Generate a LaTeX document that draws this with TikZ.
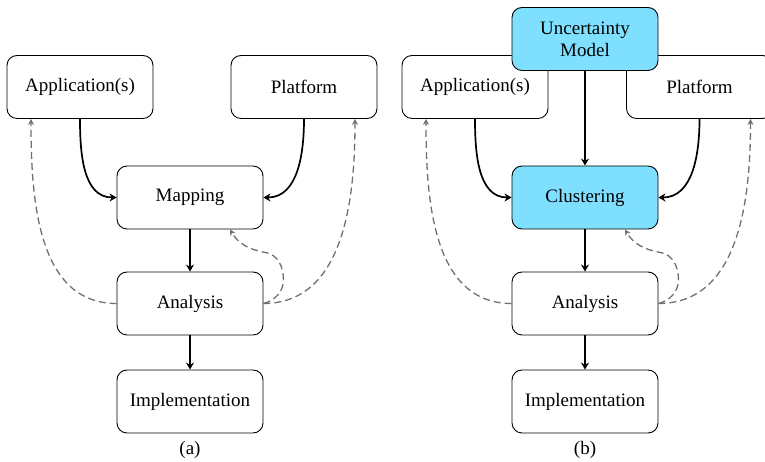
\documentclass[tikz,border=0pt]{standalone}
\usepackage{fontspec}
\setmainfont{Liberation Serif}
\usetikzlibrary{arrows.meta}
\definecolor{boxcyan}{HTML}{7EDFFF}
\definecolor{dashgray}{HTML}{707070}
\tikzset{
  stagebox/.style={draw=black, line width=0.9pt, rounded corners=10pt, minimum width=146pt, minimum height=63pt, inner sep=0pt, align=center, fill=white, font=\fontsize{19}{22}\selectfont},
  hlbox/.style={stagebox, fill=boxcyan},
  flow/.style={line width=1.7pt, -{Stealth[length=7pt,width=8pt]}},
  feedback/.style={dashgray, line width=1.3pt, dash pattern=on 7pt off 4pt, -{Stealth[length=6pt,width=6pt]}},
  caption/.style={font=\fontsize{19}{22}\selectfont, inner sep=0pt}
}
\begin{document}
\begin{tikzpicture}[x=1pt,y=1pt]
\useasboundingbox (0,0) rectangle (765,462);
\clip (0,0) rectangle (765,462);
% (a)
\node[stagebox] (appA) at (80,375) {Application(s)};
\node[stagebox] (platA) at (304,375) {Platform};
\node[stagebox] (mapA) at (190,264.5) {Mapping};
\node[stagebox] (anaA) at (190,158.5) {Analysis};
\node[stagebox] (impA) at (190,60.5) {Implementation};
\node[caption] (capA) at (190,12) {(a)};
\draw[flow] (appA.south) to[out=-90,in=180] (mapA.west);
\draw[flow] (platA.south) to[out=-90,in=0] (mapA.east);
\draw[flow] (mapA.south) -- (anaA.north);
\draw[flow] (anaA.south) -- (impA.north);
\draw[feedback] (anaA.west) to[out=180,in=-90] ([xshift=-49pt]appA.south);
\draw[feedback] (anaA.east) to[out=0,in=-90] ([xshift=51pt]platA.south);
\draw[feedback] (anaA.east) to[out=15,in=-90] ++(20,24) to[out=90,in=-10] ++(-18,27) to[out=170,in=-60] ([xshift=40pt]mapA.south);
% (b)
\node[stagebox] (appB) at (475,375) {Application(s)};
\node[stagebox] (platB) at (699.5,375) {Platform};
\node[hlbox] (uncB) at (585,423) {Uncertainty\\Model};
\node[hlbox] (cluB) at (585,264.5) {Clustering};
\node[stagebox] (anaB) at (585,158.5) {Analysis};
\node[stagebox] (impB) at (585,60.5) {Implementation};
\node[caption] (capB) at (585,12) {(b)};
\draw[flow] (appB.south) to[out=-90,in=180] (cluB.west);
\draw[flow] (platB.south) to[out=-90,in=0] (cluB.east);
\draw[flow] (uncB.south) -- (cluB.north);
\draw[flow] (cluB.south) -- (anaB.north);
\draw[flow] (anaB.south) -- (impB.north);
\draw[feedback] (anaB.west) to[out=180,in=-90] ([xshift=-49pt]appB.south);
\draw[feedback] (anaB.east) to[out=0,in=-90] ([xshift=51pt]platB.south);
\draw[feedback] (anaB.east) to[out=15,in=-90] ++(20,24) to[out=90,in=-10] ++(-18,27) to[out=170,in=-60] ([xshift=40pt]cluB.south);
\end{tikzpicture}
\end{document}
